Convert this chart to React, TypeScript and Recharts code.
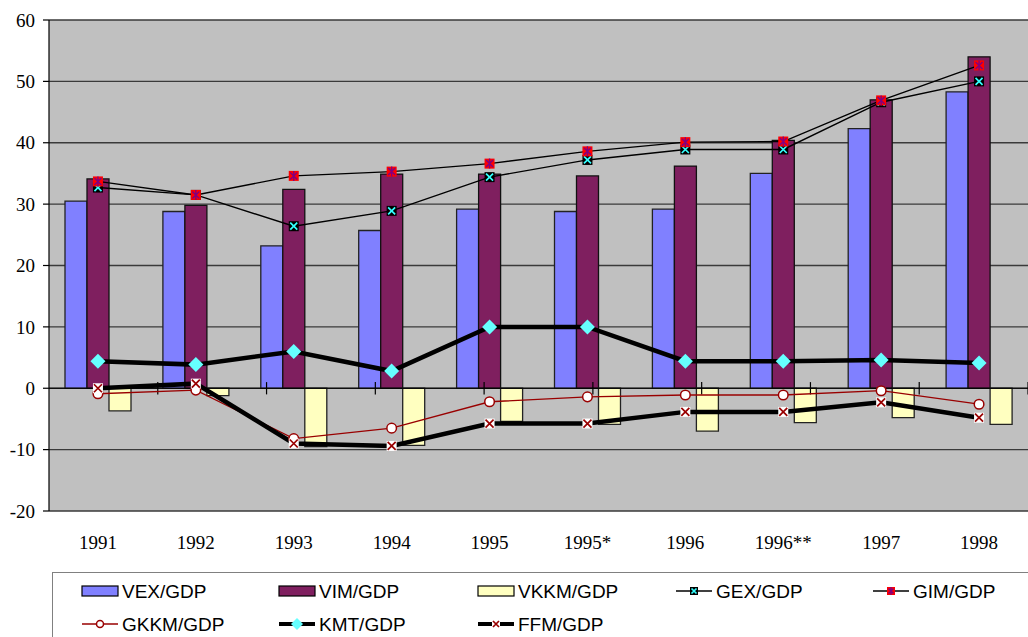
import React from 'react';
import { ComposedChart, Bar, Line, XAxis, YAxis, CartesianGrid, ReferenceLine } from 'recharts';

const years = ['1991', '1992', '1993', '1994', '1995', '1995*', '1996', '1996**', '1997', '1998'];
const vex = [30.5, 28.8, 23.2, 25.7, 29.2, 28.8, 29.2, 35.0, 42.3, 48.3];
const vim = [34.1, 29.8, 32.4, 34.9, 34.9, 34.6, 36.2, 40.4, 47.0, 54.0];
const vkkm = [-3.7, -1.2, -9.5, -9.3, -5.4, -5.9, -7.0, -5.6, -4.8, -5.9];
const gex = [32.7, 31.5, 26.4, 28.9, 34.4, 37.2, 38.9, 38.9, 46.6, 50.0];
const gim = [33.7, 31.5, 34.6, 35.3, 36.6, 38.6, 40.1, 40.2, 46.9, 52.6];
const gkkm = [-0.9, -0.3, -8.2, -6.5, -2.2, -1.4, -1.1, -1.1, -0.4, -2.6];
const kmt = [4.4, 3.85, 6.0, 2.8, 10.0, 10.0, 4.4, 4.4, 4.6, 4.1];
const ffm = [0.0, 0.75, -9.0, -9.4, -5.75, -5.75, -3.85, -3.85, -2.3, -4.8];
const yTicks = [-20, -10, 0, 10, 20, 30, 40, 50, 60];
const boundaries = [1, 2, 3, 4, 5, 6, 7, 8, 9];

const data = years.map((y, i) => ({
  year: y,
  vex: vex[i],
  vim: vim[i],
  vkkm: vkkm[i],
  gex: gex[i],
  gim: gim[i],
  gkkm: gkkm[i],
  kmt: kmt[i],
  ffm: ffm[i],
}));

const C_VEX = '#8080FF';
const C_VIM = '#7F1F5F';
const C_VKKM = '#FFFFC0';
const C_CYAN = '#66FFFF';
const C_DRED = '#990000';

const GexMark = ({ cx, cy, s = 5 }: any) => (
  <g>
    <rect x={cx - s} y={cy - s} width={2 * s} height={2 * s} fill="#000" />
    <path d={`M${cx - s + 1.5},${cy - s + 1.5}L${cx + s - 1.5},${cy + s - 1.5}M${cx + s - 1.5},${cy - s + 1.5}L${cx - s + 1.5},${cy + s - 1.5}`} stroke="#33FFFF" strokeWidth={1.7} />
  </g>
);
const GimMark = ({ cx, cy, s = 5 }: any) => (
  <g>
    <rect x={cx - s} y={cy - s} width={2 * s} height={2 * s} fill="#FF0000" />
    <path d={`M${cx - s + 1.5},${cy - s + 1.5}L${cx + s - 1.5},${cy + s - 1.5}M${cx + s - 1.5},${cy - s + 1.5}L${cx - s + 1.5},${cy + s - 1.5}M${cx},${cy - s}L${cx},${cy + s}`} stroke="#800080" strokeWidth={1.4} />
  </g>
);
const GkkmMark = ({ cx, cy, r = 4.8 }: any) => (
  <circle cx={cx} cy={cy} r={r} fill="#fff" stroke={C_DRED} strokeWidth={1.5} />
);
const KmtMark = ({ cx, cy, s = 7.5 }: any) => (
  <path d={`M${cx},${cy - s}L${cx + s},${cy}L${cx},${cy + s}L${cx - s},${cy}Z`} fill={C_CYAN} />
);
const FfmMark = ({ cx, cy, s = 5 }: any) => (
  <g>
    <rect x={cx - s} y={cy - s} width={2 * s} height={2 * s} fill="#fff" />
    <path d={`M${cx - s + 1},${cy - s + 1}L${cx + s - 1},${cy + s - 1}M${cx + s - 1},${cy - s + 1}L${cx - s + 1},${cy + s - 1}`} stroke={C_DRED} strokeWidth={1.7} />
  </g>
);

const dotFn = (Comp: any) => (props: any) => {
  const { cx, cy, index } = props;
  if (cx == null || cy == null) return <g key={`d${index}`} />;
  return <Comp key={`d${index}`} cx={cx} cy={cy} />;
};

const legendFont: React.CSSProperties = {
  fontFamily: '"Liberation Sans", Arial, sans-serif',
  fontSize: 19,
  color: '#000',
  lineHeight: '19px',
  whiteSpace: 'nowrap',
};

const SwatchIcon = ({ fill }: any) => (
  <svg width={38} height={14} style={{ display: 'block' }}>
    <rect x={1} y={2} width={36} height={10} fill={fill} stroke="#000" strokeWidth={1.2} />
  </svg>
);
const LineIcon = ({ stroke, width, Mark }: any) => (
  <svg width={38} height={16} style={{ display: 'block' }}>
    <line x1={1} x2={37} y1={8} y2={8} stroke={stroke} strokeWidth={width} />
    <Mark cx={19} cy={8} />
  </svg>
);

const legendItems = [
  { label: 'VEX/GDP', x: 81, y: 591, icon: <SwatchIcon fill={C_VEX} /> },
  { label: 'VIM/GDP', x: 278, y: 591, icon: <SwatchIcon fill={C_VIM} /> },
  { label: 'VKKM/GDP', x: 477, y: 591, icon: <SwatchIcon fill={C_VKKM} /> },
  { label: 'GEX/GDP', x: 675, y: 591, icon: <LineIcon stroke="#000" width={1.3} Mark={(p: any) => <GexMark {...p} s={4} />} /> },
  { label: 'GIM/GDP', x: 872, y: 591, icon: <LineIcon stroke="#000" width={1.3} Mark={(p: any) => <GimMark {...p} s={4} />} /> },
  { label: 'GKKM/GDP', x: 81, y: 624, icon: <LineIcon stroke={C_DRED} width={1.3} Mark={(p: any) => <GkkmMark {...p} r={3.5} />} /> },
  { label: 'KMT/GDP', x: 278, y: 624, icon: <LineIcon stroke="#000" width={4} Mark={(p: any) => <KmtMark {...p} s={6} />} /> },
  { label: 'FFM/GDP', x: 477, y: 624, icon: <LineIcon stroke="#000" width={4} Mark={(p: any) => <FfmMark {...p} s={4} />} /> },
];

export default function App() {
  return (
    <div style={{ position: 'absolute', left: 0, top: 0, width: 1028, height: 637, overflow: 'hidden', background: '#fff' }}>
      <div style={{ position: 'absolute', left: 0, top: 0 }}>
        <ComposedChart
          width={1028}
          height={637}
          data={data}
          margin={{ top: 20, right: 0, left: 0, bottom: 66 }}
          barGap={0}
        >
          <CartesianGrid vertical={false} fill="#C0C0C0" stroke="#3a3a3a" strokeWidth={1.3} />
          <XAxis
            dataKey="year"
            axisLine={false}
            tickLine={false}
            height={60}
            tickMargin={19}
            interval={0}
            tick={{ fontFamily: '"Liberation Serif", "Times New Roman", serif', fontSize: 19, fill: '#000' }}
          />
          <XAxis xAxisId="num" type="number" domain={[0, years.length]} hide allowDataOverflow />
          <YAxis
            domain={[-20, 60]}
            ticks={yTicks}
            width={49}
            interval={0}
            allowDataOverflow
            axisLine={{ stroke: '#000', strokeWidth: 1.2 }}
            tickLine={{ stroke: '#000', strokeWidth: 1.2 }}
            tickSize={6}
            tickMargin={8}
            tick={{ fontFamily: '"Liberation Serif", "Times New Roman", serif', fontSize: 19, fill: '#000' }}
          />
          <Bar dataKey="vex" barSize={22} fill={C_VEX} stroke="#222" strokeWidth={1.3} isAnimationActive={false} />
          <Bar dataKey="vim" barSize={22} fill={C_VIM} stroke="#111" strokeWidth={1.3} isAnimationActive={false} />
          <Bar dataKey="vkkm" barSize={22} fill={C_VKKM} stroke="#222" strokeWidth={1.3} isAnimationActive={false} />
          <ReferenceLine y={0} stroke="#000" strokeWidth={1} />
          {boundaries.map((b) => (
            <ReferenceLine
              key={`t${b}`}
              xAxisId="num"
              segment={[{ x: b, y: -1 }, { x: b, y: 1 }]}
              stroke="#000"
              strokeWidth={1.2}
            />
          ))}
          <Line dataKey="gkkm" stroke={C_DRED} strokeWidth={1.3} dot={dotFn(GkkmMark)} activeDot={false} isAnimationActive={false} />
          <Line dataKey="ffm" stroke="#000" strokeWidth={4.5} dot={dotFn(FfmMark)} activeDot={false} isAnimationActive={false} />
          <Line dataKey="kmt" stroke="#000" strokeWidth={4.5} dot={dotFn(KmtMark)} activeDot={false} isAnimationActive={false} />
          <Line dataKey="gex" stroke="#000" strokeWidth={1.4} dot={dotFn(GexMark)} activeDot={false} isAnimationActive={false} />
          <Line dataKey="gim" stroke="#000" strokeWidth={1.4} dot={dotFn(GimMark)} activeDot={false} isAnimationActive={false} />
        </ComposedChart>
      </div>
      <div
        style={{
          position: 'absolute',
          left: 52,
          top: 572,
          width: 1100,
          height: 100,
          borderLeft: '1.5px solid #808080',
          borderTop: '1.5px solid #808080',
          boxSizing: 'border-box',
        }}
      />
      {legendItems.map((it) => (
        <div
          key={it.label}
          style={{ position: 'absolute', left: it.x, top: it.y - 9, height: 18, display: 'flex', alignItems: 'center', ...legendFont }}
        >
          <div style={{ width: 41 }}>{it.icon}</div>
          <span>{it.label}</span>
        </div>
      ))}
    </div>
  );
}
